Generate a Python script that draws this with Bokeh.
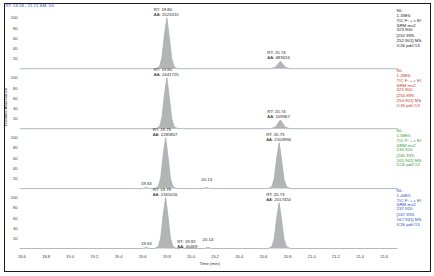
from bokeh.plotting import figure
from bokeh.models import Range1d, FixedTicker, Label, Title
from bokeh.embed import file_html
from bokeh.resources import INLINE

# ---------------- data ----------------
rt_range = (18.58, 21.71)
header_text = "RT: 18.58 - 21.71   SM: 5G"
x_tick_values = [18.6, 18.8, 19.0, 19.2, 19.4, 19.6, 19.8, 20.0, 20.2,
                 20.4, 20.6, 20.8, 21.0, 21.2, 21.4, 21.6]
y_tick_levels = [20, 40, 60, 80, 100]

trace1_time = [18.58, 19.71, 19.74, 19.76, 19.78, 19.80, 19.82, 19.84, 19.86, 19.89,
               20.66, 20.70, 20.72, 20.74, 20.76, 20.78, 20.82, 21.71]
trace1_abund = [0, 0, 4, 22, 66, 100, 62, 20, 4, 0,
                0, 3, 9, 15, 9, 3, 0, 0]

trace2_time = [18.58, 19.71, 19.74, 19.76, 19.78, 19.80, 19.82, 19.84, 19.86, 19.89,
               20.66, 20.70, 20.72, 20.74, 20.76, 20.78, 20.82, 21.71]
trace2_abund = [0, 0, 4, 22, 66, 100, 62, 20, 4, 0,
                0, 3, 10, 17, 10, 3, 0, 0]

trace3_time = [18.58, 19.60, 19.63, 19.66, 19.70, 19.73, 19.75, 19.77, 19.79, 19.81,
               19.83, 19.85, 19.88, 20.10, 20.13, 20.16, 20.64, 20.67, 20.69, 20.71,
               20.73, 20.75, 20.77, 20.79, 20.82, 21.71]
trace3_abund = [0, 0, 2, 0, 0, 4, 22, 66, 100, 62,
                20, 4, 0, 0, 2, 0, 0, 4, 20, 60,
                90, 56, 18, 4, 0, 0]

trace4_time = [18.58, 19.60, 19.63, 19.66, 19.70, 19.73, 19.75, 19.77, 19.79, 19.81,
               19.83, 19.85, 19.88, 19.90, 19.92, 19.94, 20.11, 20.14, 20.17, 20.64,
               20.67, 20.69, 20.71, 20.73, 20.75, 20.77, 20.79, 20.82, 21.71]
trace4_abund = [0, 0, 2, 0, 0, 4, 22, 66, 100, 62,
                20, 4, 0, 0, 3, 0, 0, 2, 0, 0,
                4, 20, 60, 90, 56, 18, 4, 0, 0]

peaks1_rt = [19.80, 20.74]
peaks1_area = ["2523315", "483616"]
peaks2_rt = [19.80, 20.74]
peaks2_area = ["2441725", "109367"]
peaks3_rt = [19.79, 20.73]
peaks3_area = ["2285807", "2103994"]
peaks4_rt = [19.79, 20.73]
peaks4_area = ["2165016", "2017450"]

minor3_rt = [19.63, 20.13]
minor3_text = [["19.63"], ["20.13"]]
minor4_rt = [19.63, 19.92, 20.14]
minor4_text = [["19.63"], ["RT: 19.92", "AA: 40469"], ["20.14"]]

info1 = ["NL:", "1.33E6", "TIC F: + c EI", "SRM ms2", "323.900",
         "[252.899-", "252.901]  MS", "ICIS pdt#13"]
info2 = ["NL:", "1.28E6", "TIC F: + c EI", "SRM ms2", "325.900",
         "[254.899-", "254.901]  MS", "ICIS pdt#13"]
info3 = ["NL:", "1.58E5", "TIC F: + c EI", "SRM ms2", "235.920",
         "[165.939-", "165.941]  MS", "ICIS pdt#13"]
info4 = ["NL:", "1.44E5", "TIC F: + c EI", "SRM ms2", "237.920",
         "[167.939-", "167.941]  MS", "ICIS pdt#13"]

x_label = "Time (min)"
y_label = "Relative Abundance"

# ---------------- layout / style ----------------
W, H = 434, 276
FL, FT, FB = 19, 6, 250          # frame edges in pixels
FR = 431
DATA_R = 397                     # pixel where rt_range[1] falls
PXM = (DATA_R - FL) / (rt_range[1] - rt_range[0])   # pixels per minute
PXU = 0.51                       # pixels per abundance unit
OFF = 118                        # panel spacing in abundance units
Y0 = -2 / PXU
Y1 = Y0 + (FB - FT) / PXU
X1 = rt_range[0] + (FR - FL) / PXM
FONT = "Liberation Sans"
FS = "4.3px"
LINE_U = 4.7 / PXU
INFO_U = 5.0 / PXU

colors = ["#1e1e1e", "#c83a32", "#3a9a3a", "#3050c0"]
traces = [(trace1_time, trace1_abund), (trace2_time, trace2_abund),
          (trace3_time, trace3_abund), (trace4_time, trace4_abund)]
peaks = [(peaks1_rt, peaks1_area), (peaks2_rt, peaks2_area),
         (peaks3_rt, peaks3_area), (peaks4_rt, peaks4_area)]
minors = [([], [], []), ([], [], []),
          (minor3_rt, minor3_text, [7, 14]),
          (minor4_rt, minor4_text, [7, 0, 15])]
minor_align = [[], [], ["center", "center"], ["center", "left", "center"]]
minor_dx = [[], [], [0, 0], [0, -4, 0]]
infos = [info1, info2, info3, info4]

p = figure(width=W, height=H, output_backend="svg", toolbar_location=None,
           x_range=Range1d(rt_range[0], X1), y_range=Range1d(Y0, Y1),
           min_border_left=FL, min_border_right=W - FR,
           min_border_top=FT, min_border_bottom=H - FB)
p.outline_line_color = None
p.grid.visible = False
p.background_fill_color = "white"
p.border_fill_color = "white"
p.stylesheets = [
    ":host { position: relative; }"
    ":host::after { content: ''; position: absolute; left: 4px; top: 3px;"
    " width: 425px; height: 267px; border: 1px solid #1a1a1a;"
    " pointer-events: none; z-index: 100; }"
]

# header as the plot title
p.title.text = header_text
p.title.align = "left"
p.title.offset = 5 - FL
p.title.standoff = 0
p.title.text_font = FONT
p.title.text_font_size = FS
p.title.text_font_style = "normal"
p.title.text_color = "#3050c0"
p.title.vertical_align = "bottom"

bases = [(3 - k) * OFF for k in range(4)]

# traces
for k, (t, a) in enumerate(traces):
    b = bases[k]
    yy = [b + v for v in a]
    p.varea(x=t, y1=[b] * len(t), y2=yy, fill_color="#b4b4b4", fill_alpha=1.0)
    p.line(x=t, y=yy, line_color="#aab0be", line_width=0.9)

def add_text(x, y, text, color="#222222", align="left", baseline="bottom",
             dx=0, size=FS):
    p.add_layout(Label(x=x, y=y, text=text, x_offset=dx, text_align=align,
                       text_baseline=baseline, text_font=FONT,
                       text_font_size=size, text_color=color))

for k in range(4):
    b = bases[k]
    t, a = traces[k]
    for rt, area in zip(*peaks[k]):
        h = max(v for tt, v in zip(t, a) if abs(tt - rt) < 0.03)
        add_text(rt, b + h + 2, "AA: " + area, dx=-13)
        add_text(rt, b + h + 2 + LINE_U, "RT: %.2f" % rt, dx=-13)
    for (rt, lines, lvl), al, dx in zip(zip(*minors[k]), minor_align[k], minor_dx[k]):
        for i, line in enumerate(reversed(lines)):
            add_text(rt, b + lvl + i * LINE_U, line, align=al, dx=dx)
    for i, line in enumerate(infos[k]):
        add_text(rt_range[1], b + 120 - i * INFO_U, line, color=colors[k],
                 baseline="top", dx=-1, size="4.4px")

# axes
for ax in (p.xaxis, p.yaxis):
    ax.major_label_text_font = FONT
    ax.major_label_text_font_size = "4px"
    ax.major_label_text_color = "#333333"
    ax.axis_line_color = None
    ax.major_tick_line_color = None
    ax.minor_tick_line_color = None
    ax.major_tick_out = 0
    ax.major_tick_in = 0
    ax.minor_tick_out = 0
    ax.minor_tick_in = 0
    ax.axis_label_standoff = 0

p.xaxis.ticker = FixedTicker(ticks=x_tick_values)
p.xaxis.major_label_overrides = {v: "%.1f" % v for v in x_tick_values}
p.xaxis.major_label_standoff = 4

yt = [b + v for b in bases for v in y_tick_levels]
p.yaxis.ticker = FixedTicker(ticks=yt)
p.yaxis.major_label_overrides = {b + v: str(v) for b in bases for v in y_tick_levels}
p.yaxis.major_label_standoff = 2

# axis titles placed in the side panels
p.add_layout(Title(text=x_label, align="left", offset=199 - FL, standoff=0,
                   text_font=FONT, text_font_size=FS, text_font_style="normal",
                   text_color="#333333", vertical_align="top"), "below")
p.add_layout(Title(text=y_label, align="right", offset=86 - FT, standoff=0,
                   text_font=FONT, text_font_size=FS, text_font_style="normal",
                   text_color="#333333"), "left")

open("out.html", "w").write(file_html(p, INLINE))
